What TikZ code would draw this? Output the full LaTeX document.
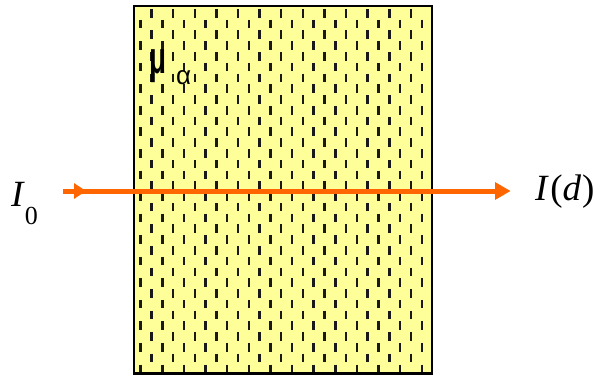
\documentclass[tikz,border=0pt]{standalone}
\usepackage{fontspec}
\setmainfont{Liberation Serif}
\newfontfamily\symfont{Liberation Sans}
\usetikzlibrary{arrows.meta,decorations.markings}
\definecolor{slabfill}{RGB}{255,255,153}
\definecolor{beamcol}{RGB}{255,102,0}
\definecolor{dashcol}{RGB}{25,25,25}
\tikzset{
  slab/.style={fill=slabfill, minimum width=298pt, minimum height=367.7pt, inner sep=0pt, outer sep=0pt},
  slabborder/.style={draw=black, line width=2.5pt},
  grain/.style={draw=dashcol, line width=2.5pt},
  beam/.style={draw=beamcol, line width=5pt, -{Triangle[length=15.7pt,width=16.7pt]},
    postaction={decorate},
    decoration={markings, mark=at position 22.7pt with {\arrow[beamcol]{Triangle[length=12pt,width=15pt]}}}},
  lbl/.style={inner sep=0pt, outer sep=0pt, font=\fontsize{37}{37}\selectfont}
}
\begin{document}
\begin{tikzpicture}[x=1pt,y=-1pt]
\useasboundingbox (0,0) rectangle (602,375);
\node[slab] (slab) at (283,189.85) {};
\begin{scope}
  \clip (slab.south west) rectangle (slab.north east);
  \foreach \k in {0,...,27} {
    \pgfmathsetmacro{\xx}{140.7+10.81*\k}
    \pgfmathsetmacro{\yo}{ifthenelse(mod(\k,2)==0,24,13.2)}
    \foreach \j in {-1,...,17} {
      \draw[grain] (\xx,\yo+21.55*\j-4.3) -- (\xx,\yo+21.55*\j+4.3);
    }
  }
\end{scope}
\draw[slabborder] (slab.south west) rectangle (slab.north east);
\coordinate (src) at (63.3,191);
\coordinate (dst) at (510.7,191);
\draw[beam] (src) -- (dst);
\node[lbl, anchor=base west] (izero) at (11,206) {\textit{I}\raisebox{-18pt}{\fontsize{26}{26}\selectfont 0}};
\node[lbl, anchor=base west] (idd) at (535,200) {\textit{I}\kern1.5pt(\textit{d}\kern1pt)};
\node[inner sep=0pt, anchor=base west] (mu) at (149,73) {\symfont\bfseries\resizebox*{17pt}{33pt}{μ}\hspace{10pt}\raisebox{-11pt}{\fontsize{26}{26}\selectfont\mdseries α}};
\end{tikzpicture}
\end{document}
